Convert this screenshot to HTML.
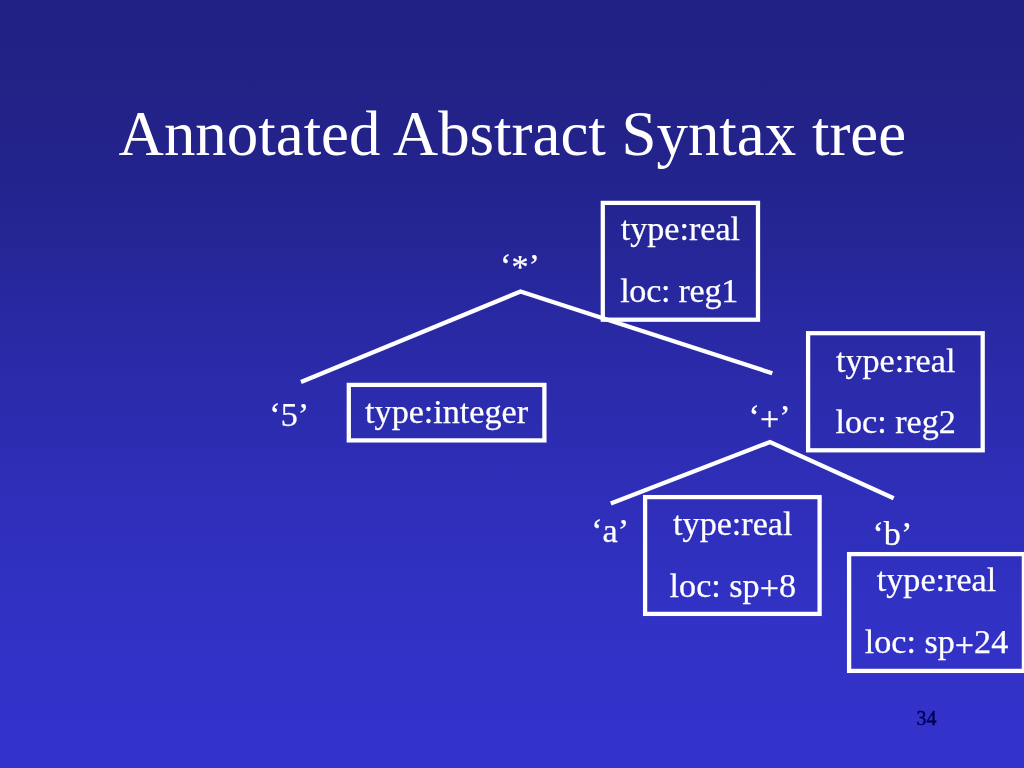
<!DOCTYPE html>
<html>
<head>
<meta charset="utf-8">
<title>Annotated Abstract Syntax tree</title>
<style>
html,body{margin:0;padding:0;width:1024px;height:768px;overflow:hidden;background:#3333cc;}
#slide{position:absolute;left:0;top:0;width:1024px;height:768px;overflow:hidden;
background:linear-gradient(to bottom,rgb(33.0,33.0,132.0) 0px,rgb(33.2,33.2,132.8) 48px,rgb(33.7,33.7,134.8) 96px,rgb(34.5,34.5,138.2) 144px,rgb(35.8,35.8,143.2) 192px,rgb(37.5,37.5,149.8) 240px,rgb(39.4,39.4,157.5) 288px,rgb(41.2,41.2,165.0) 336px,rgb(42.9,42.9,171.5) 384px,rgb(44.4,44.4,177.5) 432px,rgb(45.8,45.8,183.0) 480px,rgb(47.0,47.0,188.0) 528px,rgb(48.2,48.2,193.0) 576px,rgb(49.4,49.4,197.5) 624px,rgb(50.2,50.2,201.0) 672px,rgb(50.8,50.8,203.3) 720px,rgb(51.0,51.0,204.0) 768px);}
svg{position:absolute;left:0;top:0;will-change:transform;}
text{font-family:"Liberation Serif",serif;fill:#ffffff;}
.t{font-size:62.9px;}
.b{font-size:34.13px;stroke:#ffffff;stroke-width:0.25;}
.n{font-size:19.9px;fill:#000058;stroke:#000058;stroke-width:0.5;}
.bx{fill:none;stroke:#ffffff;stroke-width:4.27;}
.ln{fill:none;stroke:#ffffff;stroke-width:4.27;stroke-linejoin:miter;}
</style>
</head>
<body>
<div id="slide">
<svg width="1024" height="768" viewBox="0 0 1024 768">
<text class="t" x="118.5" y="154.7">Annotated Abstract Syntax tree</text>

<polyline class="ln" points="301,382 520.5,291.5 772.3,373.3"/>
<polyline class="ln" points="610.8,503.5 770,442 893.7,498.2"/>

<rect class="bx" x="602.8" y="202.9" width="155.2" height="116.8"/>
<rect class="bx" x="808.1" y="333.2" width="174.6" height="117.1"/>
<rect class="bx" x="645.1" y="497.1" width="174.5" height="116.8"/>
<rect class="bx" x="849.1" y="554.1" width="174.8" height="116.8"/>
<rect class="bx" x="348.8" y="384.9" width="195.6" height="55.5"/>

<text class="b" x="500" y="277.4">‘<tspan dy="0.6">*</tspan><tspan dy="-0.6">’</tspan></text>
<text class="b" x="269.3" y="425.5">‘5’</text>
<text class="b" x="748.6" y="427.7">‘<tspan dy="2.7">+</tspan><tspan dy="-2.7">’</tspan></text>
<text class="b" x="591.2" y="541.5">‘a’</text>
<text class="b" x="872.5" y="544.9">‘b’</text>

<text class="b" text-anchor="middle" x="680.4" y="240.0">type:real</text>
<text class="b" text-anchor="middle" x="679.1" y="302.3" style="letter-spacing:-0.28px">loc: reg1</text>

<text class="b" text-anchor="middle" x="895.7" y="372.2">type:real</text>
<text class="b" text-anchor="middle" x="895.7" y="432.8">loc: reg2</text>

<text class="b" text-anchor="middle" x="732.8" y="535.1">type:real</text>
<text class="b" text-anchor="middle" x="732.8" y="596.6">loc: sp<tspan dy="2.7">+</tspan><tspan dy="-2.7">8</tspan></text>

<text class="b" text-anchor="middle" x="936.5" y="591.1">type:real</text>
<text class="b" text-anchor="middle" x="936.5" y="653.3">loc: sp<tspan dy="2.7">+</tspan><tspan dy="-2.7">24</tspan></text>

<text class="b" text-anchor="middle" x="446.6" y="422.9">type:integer</text>

<text class="n" x="916.6" y="724.5">34</text>
</svg>
</div>
</body>
</html>
